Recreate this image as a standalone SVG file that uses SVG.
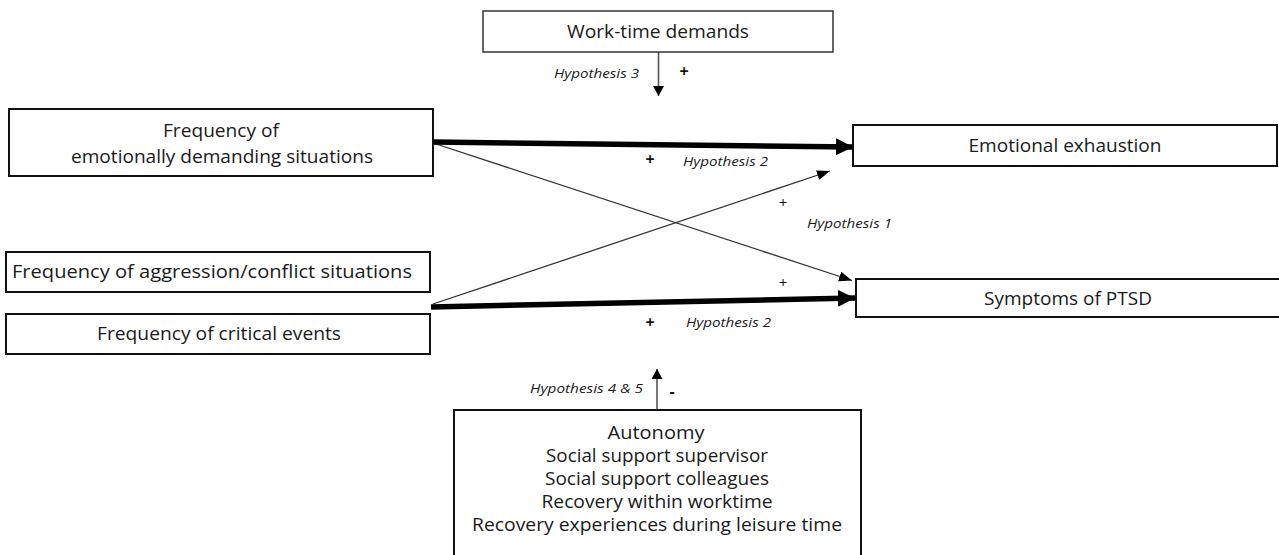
<svg xmlns="http://www.w3.org/2000/svg" width="1279" height="555" viewBox="0 0 1279 555">
<defs>
<style>
.box{fill:#fff;stroke:#111;stroke-width:2}
.box2{fill:#fff;stroke:#333;stroke-width:1.5}
.t{font-family:"Open Sans","Liberation Sans",sans-serif;font-size:18.5px;fill:#1a1a1a;text-anchor:middle}
.h{font-family:"Open Sans","Liberation Sans",sans-serif;font-size:13.5px;font-style:italic;fill:#1a1a1a}
.p{font-family:"Open Sans","Liberation Sans",sans-serif;font-size:16px;font-weight:bold;fill:#111;text-anchor:middle}
.pl{font-family:"Open Sans","Liberation Sans",sans-serif;font-size:15px;fill:#111;text-anchor:middle}
.thick{stroke:#000;stroke-width:5.5;fill:none}
.thin{stroke:#333;stroke-width:1.3;fill:none}
.vert{stroke:#555;stroke-width:1.6;fill:none}
</style>
<marker id="hb" markerUnits="userSpaceOnUse" markerWidth="18" markerHeight="18" refX="17" refY="8.5" orient="auto" viewBox="0 0 18 18"><path d="M0,0 L17,8.5 L0,17 Z" fill="#000"/></marker>
<marker id="hs" markerUnits="userSpaceOnUse" markerWidth="14" markerHeight="12" refX="13" refY="5" orient="auto" viewBox="0 0 14 12"><path d="M0,0 L13,5 L0,10 Z" fill="#000"/></marker>
<marker id="hv" markerUnits="userSpaceOnUse" markerWidth="12" markerHeight="12" refX="10" refY="5.5" orient="auto" viewBox="0 0 12 12"><path d="M0,0 L10,5.5 L0,11 Z" fill="#000"/></marker>
</defs>

<g id="connectors">
<line class="thin" x1="433" y1="143" x2="852" y2="280.5" marker-end="url(#hs)"/>
<line class="thin" x1="433" y1="304" x2="830" y2="171" marker-end="url(#hs)"/>
<line class="thick" x1="433" y1="142" x2="853" y2="147" marker-end="url(#hb)"/>
<line class="thick" x1="431" y1="307" x2="855" y2="298" marker-end="url(#hb)"/>
<line class="vert" x1="658.5" y1="52" x2="658.5" y2="96" marker-end="url(#hv)"/>
<line class="vert" x1="657" y1="410" x2="657" y2="369" marker-end="url(#hv)"/>
</g>

<g id="labels">
<text class="h" x="554" y="78" textLength="85" lengthAdjust="spacingAndGlyphs">Hypothesis 3</text>
<text class="p" x="684" y="77">+</text>
<text class="p" x="650" y="165">+</text>
<text class="h" x="683" y="166" textLength="85" lengthAdjust="spacingAndGlyphs">Hypothesis 2</text>
<text class="pl" x="783" y="208">+</text>
<text class="h" x="807" y="228" textLength="85" lengthAdjust="spacingAndGlyphs">Hypothesis 1</text>
<text class="pl" x="783" y="288">+</text>
<text class="p" x="650" y="328">+</text>
<text class="h" x="686" y="327" textLength="85" lengthAdjust="spacingAndGlyphs">Hypothesis 2</text>
<text class="h" x="530" y="393" textLength="113" lengthAdjust="spacingAndGlyphs">Hypothesis 4 &amp; 5</text>
<text class="p" x="672" y="397">-</text>
</g>

<g id="work-time">
<rect class="box2" x="483" y="11" width="350" height="41"/>
<text class="t" x="658" y="38" textLength="182" lengthAdjust="spacingAndGlyphs">Work-time demands</text>
</g>

<g id="emotionally-demanding">
<rect class="box" x="9" y="109" width="424" height="67"/>
<text class="t" x="221" y="137" textLength="116" lengthAdjust="spacingAndGlyphs">Frequency of</text>
<text class="t" x="222" y="163" textLength="302" lengthAdjust="spacingAndGlyphs">emotionally demanding situations</text>
</g>

<g id="aggression">
<rect class="box" x="6" y="252" width="424" height="40"/>
<text class="t" x="212" y="278" textLength="400" lengthAdjust="spacingAndGlyphs">Frequency of aggression/conflict situations</text>
</g>

<g id="critical-events">
<rect class="box" x="6" y="314" width="424" height="40"/>
<text class="t" x="219" y="340" textLength="244" lengthAdjust="spacingAndGlyphs">Frequency of critical events</text>
</g>

<g id="emotional-exhaustion">
<rect class="box" x="853" y="125" width="424" height="41"/>
<text class="t" x="1065" y="152" textLength="193" lengthAdjust="spacingAndGlyphs">Emotional exhaustion</text>
</g>

<g id="ptsd">
<rect class="box" x="856" y="279" width="430" height="38"/>
<text class="t" x="1068" y="305" textLength="168" lengthAdjust="spacingAndGlyphs">Symptoms of PTSD</text>
</g>

<g id="resources">
<rect class="box" x="454" y="410" width="407" height="150"/>
<text class="t" x="656" y="439" textLength="97" lengthAdjust="spacingAndGlyphs">Autonomy</text>
<text class="t" x="657" y="462" textLength="222" lengthAdjust="spacingAndGlyphs">Social support supervisor</text>
<text class="t" x="657" y="485" textLength="224" lengthAdjust="spacingAndGlyphs">Social support colleagues</text>
<text class="t" x="657" y="508" textLength="231" lengthAdjust="spacingAndGlyphs">Recovery within worktime</text>
<text class="t" x="657" y="531" textLength="370" lengthAdjust="spacingAndGlyphs">Recovery experiences during leisure time</text>
</g>
</svg>
